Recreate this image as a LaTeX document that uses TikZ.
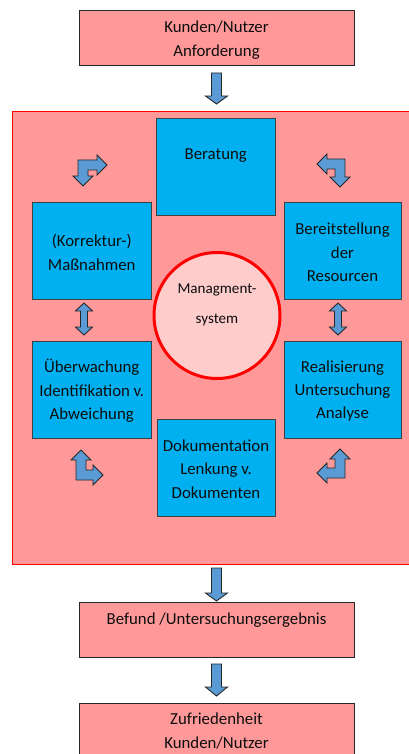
\documentclass[tikz,border=0pt]{standalone}
\usepackage{fontspec}
\setmainfont{Carlito}
\begin{document}
\begin{tikzpicture}[x=1pt,y=-1pt,
  txt/.style={font=\fontsize{16.8}{23.3}\selectfont, text=black!95, align=center},
  pinkbox/.style={draw=black!85, line width=0.9pt, fill=pinkc, inner sep=0pt},
  bluebox/.style={draw=black!75, line width=0.9pt, fill=bluec, inner sep=0pt},
  blockarrow/.style={draw=black!85, line width=0.9pt, fill=arrowc, line join=miter}
]
\definecolor{pinkc}{HTML}{FF9999}
\definecolor{bluec}{HTML}{00B0F0}
\definecolor{arrowc}{HTML}{5B9BD5}
\definecolor{circc}{HTML}{FFCCCC}
\useasboundingbox (0,0) rectangle (408,754);
\fill[white] (0,0) rectangle (408,754);

% outer blocks
\node[pinkbox, minimum width=275pt, minimum height=55pt] (req) at (216.5,37.5) {};
\node[txt] at (216.5,40) {Kunden/Nutzer\\Anforderung};

\node[draw=red, line width=1pt, fill=pinkc, minimum width=400pt, minimum height=452pt, inner sep=0pt] (qms) at (212,338) {};

\node[pinkbox, minimum width=275pt, minimum height=55pt] (res) at (216.5,629.5) {};
\node[txt] at (216.5,620) {Befund /Untersuchungsergebnis};

\node[pinkbox, minimum width=275pt, minimum height=60pt] (sat) at (216.5,733) {};
\node[txt] at (216.5,731) {Zufriedenheit\\Kunden/Nutzer};

% blue boxes
\node[bluebox, minimum width=118.5pt, minimum height=97pt] (ber) at (215.75,166.5) {};
\node[txt] at (215.75,156) {Beratung};
\node[bluebox, minimum width=118.5pt, minimum height=97pt] (kor) at (91.75,250.5) {};
\node[txt] at (91.75,252.5) {(Korrektur-)\\Maßnahmen};
\node[bluebox, minimum width=117pt, minimum height=97pt] (bereit) at (342.5,250.5) {};
\node[txt] at (342.5,252.5) {Bereitstellung\\der\\Resourcen};
\node[bluebox, minimum width=118.5pt, minimum height=97pt] (ueb) at (91.75,389.5) {};
\node[txt] at (91.75,391) {Überwachung\\Identifikation v.\\Abweichung};
\node[bluebox, minimum width=117pt, minimum height=97pt] (real) at (342.5,389.5) {};
\node[txt] at (342.5,391) {Realisierung\\Untersuchung\\Analyse};
\node[bluebox, minimum width=118pt, minimum height=97pt] (dok) at (216,467.5) {};
\node[txt] at (216,469) {Dokumentation\\Lenkung v.\\Dokumenten};

% circle
\node[draw=red, line width=3pt, fill=circc, circle, minimum size=126pt, inner sep=0pt] (ms) at (217,315.5) {};
\node[font=\fontsize{15.1}{30}\selectfont, text=black!95, align=center] at (217,305) {Managment-\\system};

% down arrows
\foreach \t/\b/\p in {73/96/104, 568/593/601, 664/687/696}{
  \draw[blockarrow] (211.5,\t) -- (221.5,\t) -- (221.5,\b) -- (227.5,\b) -- (216.5,\p) -- (205.5,\b) -- (211.5,\b) -- cycle;
}

% double vertical arrows
\foreach \c in {84,338}{
  \draw[blockarrow] (\c,303) -- (\c+8.5,311) -- (\c+3.5,311) -- (\c+3.5,327) -- (\c+8.5,327) -- (\c,335) -- (\c-8.5,327) -- (\c-3.5,327) -- (\c-3.5,311) -- (\c-8.5,311) -- cycle;
}

% bent arrows
\draw[blockarrow] (78,176) -- (73,176) -- (83,186) -- (93,176) -- (88,176) -- (88,170) -- (97,170) -- (97,175) -- (107,165) -- (97,155) -- (97,160) -- (78,160) -- cycle;
\draw[blockarrow] (345,159) -- (345,177) -- (350,177) -- (340,187) -- (330,177) -- (335,177) -- (335,169) -- (327,169) -- (327,174) -- (317,164) -- (327,154) -- (327,159) -- cycle;
\draw[blockarrow] (76,480) -- (76,460) -- (71,460) -- (81,450) -- (91,460) -- (86,460) -- (86,470) -- (93,470) -- (93,465) -- (103,475) -- (93,485) -- (93,480) -- cycle;
\draw[blockarrow] (345,478) -- (345,459) -- (350,459) -- (340,449) -- (330,459) -- (335,459) -- (335,468) -- (327,468) -- (327,463) -- (317,473) -- (327,483) -- (327,478) -- cycle;
\end{tikzpicture}
\end{document}
